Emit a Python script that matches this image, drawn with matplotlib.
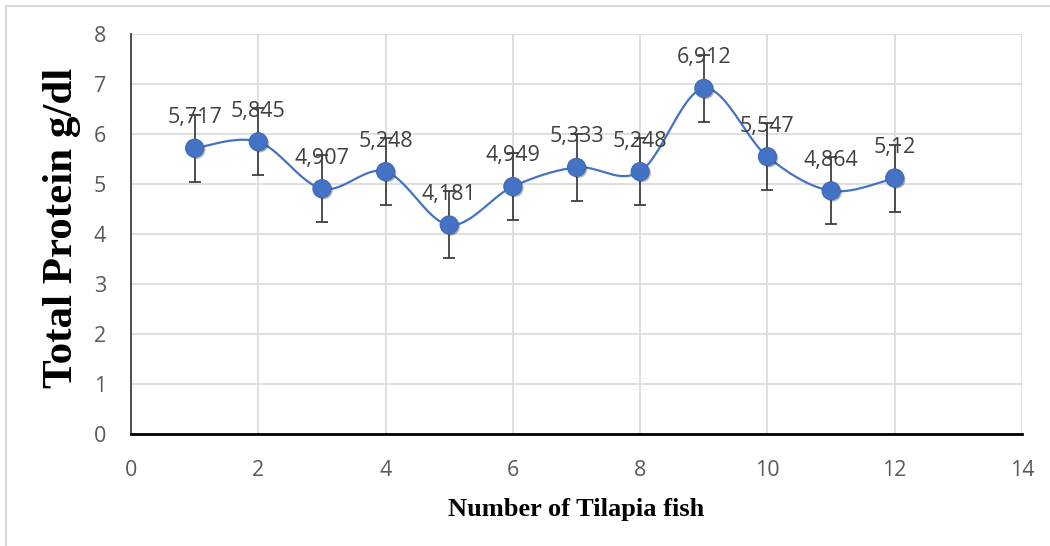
import numpy as np
import matplotlib
matplotlib.use("Agg")
import matplotlib.pyplot as plt
import matplotlib.patheffects as pe
from matplotlib.patches import Rectangle

fish = [1, 2, 3, 4, 5, 6, 7, 8, 9, 10, 11, 12]
protein = [5.717, 5.845, 4.907, 5.248, 4.181, 4.949, 5.333, 5.248, 6.912, 5.547, 4.864, 5.12]
errors = [0.67, 0.67, 0.67, 0.67, 0.67, 0.67, 0.67, 0.67, 0.67, 0.67, 0.67, 0.67]
labels = ["5,717", "5,845", "4,907", "5,248", "4,181", "4,949", "5,333", "5,248", "6,912", "5,547", "4,864", "5,12"]

blue = "#4472C4"
tick_gray = "#595959"
label_gray = "#404040"


def smooth_curve(xs, ys, n=30):
    # excel-like smoothed line: cubic bezier with catmull-rom control points
    pts = np.column_stack([xs, ys]).astype(float)
    out = [pts[0]]
    for i in range(len(pts) - 1):
        p0 = pts[i - 1] if i > 0 else pts[i]
        p1 = pts[i]
        p2 = pts[i + 1]
        p3 = pts[i + 2] if i + 2 < len(pts) else pts[i + 1]
        c1 = p1 + (p2 - p0) / 6.0
        c2 = p2 - (p3 - p1) / 6.0
        t = np.linspace(0, 1, n)[1:, None]
        seg = ((1 - t) ** 3) * p1 + 3 * ((1 - t) ** 2) * t * c1 + 3 * (1 - t) * t ** 2 * c2 + t ** 3 * p2
        out.extend(seg)
    out = np.array(out)
    return out[:, 0], out[:, 1]


fig = plt.figure(figsize=(10.5, 5.46), dpi=100)
ax = fig.add_axes([131 / 1050, 112 / 546, 891 / 1050, 400 / 546])

fig.patches.append(Rectangle((6 / 1050, -0.1), 1.2, (540 / 546) + 0.1, transform=fig.transFigure,
                             fill=False, edgecolor="#D9D9D9", linewidth=1.5, zorder=0))

sx, sy = smooth_curve(fish, protein)
ax.plot(sx, sy, color=blue, lw=1.6, zorder=2)
ax.errorbar(fish, protein, yerr=errors, fmt="none", ecolor=label_gray, elinewidth=1.3,
            capsize=4.3, capthick=1.3, zorder=3)
ax.plot(fish, protein, ls="none", marker="o", ms=13, mfc=blue, mec="#3F68B5", mew=0.8, zorder=4,
        path_effects=[pe.SimplePatchShadow(offset=(1.2, -1.2), alpha=0.35), pe.Normal()])

for x, y, s in zip(fish, protein, labels):
    ax.annotate(s, (x, y), xytext=(0, 22), textcoords="offset points", ha="center", va="center",
                fontsize=15.5, color=label_gray, family="Open Sans", zorder=2.5)

ax.set_xlim(0, 14)
ax.set_ylim(0, 8)
ax.set_xticks(np.arange(0, 15, 2))
ax.set_yticks(np.arange(0, 9, 1))
ax.grid(True, color="#D9D9D9", lw=1.2)
ax.set_axisbelow(True)
for s in ["top", "right"]:
    ax.spines[s].set_visible(False)
ax.spines["left"].set_color("#404040")
ax.spines["left"].set_linewidth(1.3)
ax.spines["bottom"].set_color("black")
ax.spines["bottom"].set_linewidth(2)
ax.tick_params(length=0, labelsize=15.5, colors=tick_gray)
ax.tick_params(axis="x", pad=19)
ax.tick_params(axis="y", pad=18)
for t in ax.get_xticklabels() + ax.get_yticklabels():
    t.set_family("Open Sans")

ax.set_xlabel("Number of Tilapia fish", family="Liberation Serif", fontweight="bold", fontsize=19,
              color="black", labelpad=12)
fig.text(62 / 1050, 1 - 228 / 546, "Total Protein g/dl", family="Liberation Serif", fontweight="bold",
         fontsize=31, color="black", rotation=90, ha="center", va="center")

fig.savefig("out.png", dpi=100)
